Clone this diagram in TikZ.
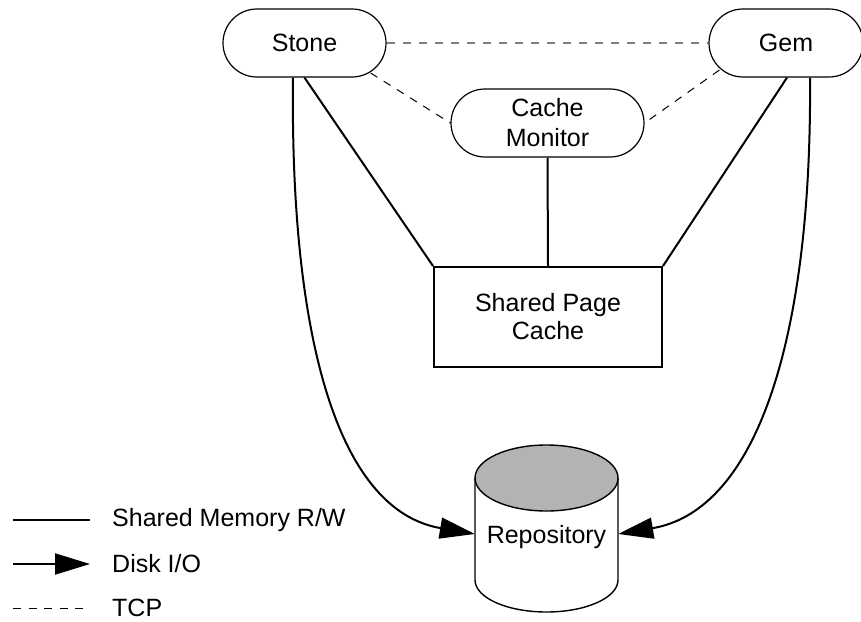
\documentclass[tikz,border=0pt]{standalone}
\usepackage{fontspec}
\setmainfont{Liberation Sans}
\usetikzlibrary{shapes.misc,arrows.meta,calc}
\definecolor{topgray}{RGB}{179,179,179}
\tikzset{
  proc/.style={rounded rectangle, draw, line width=1.2pt, minimum height=68pt, inner sep=0pt, align=center, font=\fontsize{25}{30}\selectfont},
  cachebox/.style={rectangle, draw, line width=2pt, minimum width=228pt, minimum height=100pt, inner sep=0pt, align=center, font=\fontsize{25}{28}\selectfont},
  shm/.style={line width=2pt},
  disk/.style={line width=2pt, -{Triangle[length=35pt,width=21pt]}},
  tcp/.style={line width=1pt, dash pattern=on 8pt off 7.5pt},
  tcpgray/.style={line width=1.3pt, draw=black!50, dash pattern=on 8pt off 8pt},
  lbl/.style={anchor=west, inner sep=0pt, font=\fontsize{25}{30}\selectfont},
  repolbl/.style={inner sep=0pt, font=\fontsize{25}{30}\selectfont}
}
\begin{document}
\begin{tikzpicture}[x=1pt,y=-1pt]
\useasboundingbox (0,0) rectangle (861,621);
% nodes
\node[proc, minimum width=163pt] (stone) at (304.5,43) {Stone};
\node[proc, minimum width=154pt] (gem) at (786,43) {Gem};
\node[proc, minimum width=193pt] (cm) at (547.5,123) {Cache\\Monitor};
\node[cachebox] (spc) at (548,317) {Shared Page\\Cache};
% repository cylinder
\fill[topgray] (546.5,478) ellipse [x radius=71.5, y radius=33];
\draw[line width=1.4pt] (546.5,478) ellipse [x radius=71.5, y radius=33];
\draw[line width=1.4pt] (475,478) -- (475,580) arc[start angle=180, end angle=0, x radius=71.5, y radius=32] -- (618,478);
\node[repolbl, minimum width=143pt] (repo) at (546.5,537) {Repository};
% TCP
\draw[tcpgray] (stone.east) -- (gem.west);
\draw[tcp] ($(stone.east)+(-16,30)$) -- (cm.west);
\draw[tcp] ($(gem.west)+(11,27)$) -- (cm.east);
% shared memory
\draw[shm] (stone.south) -- (spc.north west);
\draw[shm] ([xshift=1pt]gem.south) -- (spc.north east);
\draw[shm] (cm.south) -- (spc.north);
% disk I/O
\draw[disk] ([xshift=-11.5pt]stone.south) .. controls (290,330) and (335,510) .. ([yshift=3pt]repo.west);
\draw[disk] ([xshift=24pt]gem.south) .. controls (812,330) and (760,510) .. ([yshift=3pt]repo.east);
% legend
\coordinate (la1) at (13,520); \coordinate (lb1) at (90,520);
\coordinate (la2) at (13,564); \coordinate (lb2) at (90,564);
\coordinate (la3) at (13,608); \coordinate (lb3) at (90,608);
\draw[shm] (la1) -- (lb1);
\draw[disk] (la2) -- (lb2);
\draw[tcp] (la3) -- (lb3);
\node[lbl] (t1) at (112,520) {Shared Memory R/W};
\node[lbl] (t2) at (112,564) {Disk I/O};
\node[lbl] (t3) at (112,608) {TCP};
\end{tikzpicture}
\end{document}
